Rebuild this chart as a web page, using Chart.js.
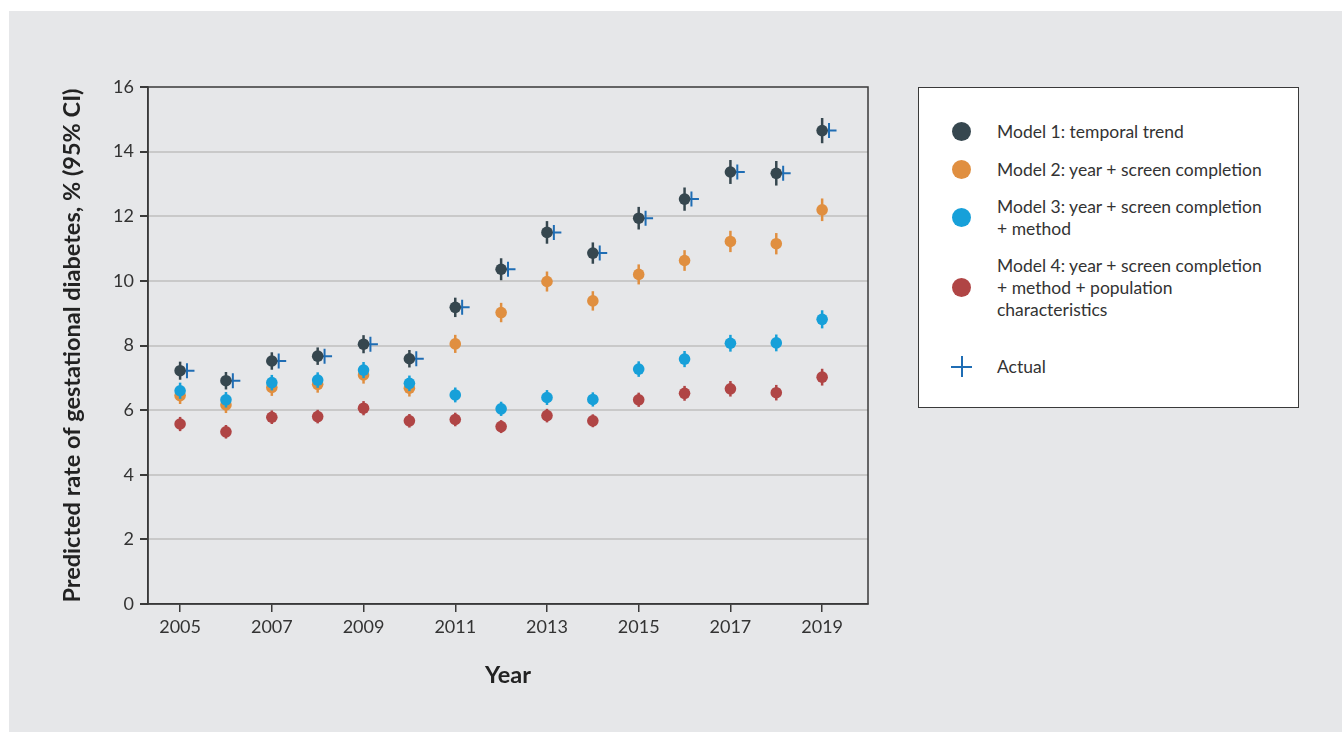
<!DOCTYPE html>
<html>
<head>
<meta charset="utf-8">
<script src="https://cdn.jsdelivr.net/npm/chart.js@4"></script>
<style>
  html, body { margin: 0; padding: 0; background: #fff; }
  body { width: 1342px; height: 732px; position: relative; overflow: hidden; font-family: Lato, "Noto Sans", sans-serif; }
  #panel { position: absolute; left: 9px; top: 11px; right: 0; bottom: 0; background: #e6e7e9; }
  #chart { position: absolute; left: 0; top: 0; }
  #legend {
    position: absolute; left: 918px; top: 87px; width: 379px; height: 319px;
    background: #fff; border: 1.5px solid #3a3a3a; color: #333; font-size: 17.5px; line-height: 22px;
  }
  .item { position: absolute; left: 78px; }
  .dot { position: absolute; width: 19px; height: 19px; border-radius: 50%; left: 33px; }
  .cross { position: absolute; left: 32px; width: 21px; height: 21px; }
  .cross:before { content: ""; position: absolute; left: 0; top: 9.5px; width: 21px; height: 2px; background: #1f6db4; }
  .cross:after { content: ""; position: absolute; left: 9.5px; top: 0; width: 2px; height: 21px; background: #1f6db4; }
</style>
</head>
<body>
<div id="panel"></div>
<canvas id="chart" width="880" height="732"></canvas>
<div id="legend">
  <div class="dot" style="top:34px;background:#36474f"></div>
  <div class="item" style="top:33px">Model 1: temporal trend</div>
  <div class="dot" style="top:72px;background:#e08f40"></div>
  <div class="item" style="top:71px">Model 2: year + screen completion</div>
  <div class="dot" style="top:120px;background:#17a0d9"></div>
  <div class="item" style="top:108px">Model 3: year + screen completion<br>+ method</div>
  <div class="dot" style="top:190px;background:#b04545"></div>
  <div class="item" style="top:167px">Model 4: year + screen completion<br>+ method + population<br>characteristics</div>
  <div class="cross" style="top:268px"></div>
  <div class="item" style="top:268px">Actual</div>
</div>
<script>
const years = [2005, 2006, 2007, 2008, 2009, 2010, 2011, 2012, 2013, 2014, 2015, 2016, 2017, 2018, 2019];
const tickYears = [2005, 2007, 2009, 2011, 2013, 2015, 2017, 2019];

const model1 = [7.22, 6.91, 7.52, 7.67, 8.04, 7.59, 9.18, 10.36, 11.5, 10.86, 11.94, 12.53, 13.37, 13.33, 14.65];
const model1Err = [0.28, 0.27, 0.27, 0.27, 0.28, 0.27, 0.30, 0.34, 0.35, 0.33, 0.35, 0.36, 0.37, 0.38, 0.39];
const model2 = [6.45, 6.16, 6.70, 6.80, 7.09, 6.68, 8.05, 9.02, 9.98, 9.38, 10.2, 10.63, 11.22, 11.15, 12.2];
const model2Err = [0.26, 0.25, 0.26, 0.26, 0.27, 0.26, 0.28, 0.30, 0.31, 0.30, 0.31, 0.32, 0.33, 0.33, 0.35];
const model3 = [6.60, 6.32, 6.85, 6.93, 7.24, 6.83, 6.47, 6.04, 6.39, 6.33, 7.27, 7.58, 8.07, 8.08, 8.81];
const model3Err = [0.25, 0.24, 0.24, 0.24, 0.25, 0.24, 0.23, 0.22, 0.23, 0.22, 0.24, 0.25, 0.26, 0.26, 0.28];
const model4 = [5.57, 5.33, 5.78, 5.80, 6.06, 5.67, 5.71, 5.49, 5.83, 5.67, 6.32, 6.52, 6.66, 6.54, 7.02];
const model4Err = [0.22, 0.21, 0.21, 0.21, 0.22, 0.21, 0.21, 0.20, 0.21, 0.20, 0.22, 0.23, 0.24, 0.24, 0.26];
const actual = [7.22, 6.91, 7.52, 7.67, 8.04, 7.59, 9.18, 10.36, 11.5, 10.86, 11.94, 12.53, 13.37, 13.33, 14.65];

const actualShift = 0.15; // crosses sit just right of the model points

const FONT = 'Lato, "Noto Sans", sans-serif';
const TEXT = '#333';

function pts(vals) {
  return years.map((y, i) => ({ x: y, y: vals[i] }));
}

function modelSet(label, vals, err, color, order) {
  return {
    label, data: pts(vals), errors: err,
    backgroundColor: color, borderColor: color, borderWidth: 0,
    pointRadius: 5.8, pointHoverRadius: 5.8, showLine: false, order
  };
}

// vertical 95% CI bars, drawn under each dataset's points
const errorBars = {
  id: 'errorBars',
  beforeDatasetDraw(chart, args) {
    const ds = chart.data.datasets[args.index];
    if (!ds.errors) return;
    const { ctx, scales: { x, y } } = chart;
    ctx.save();
    ctx.strokeStyle = ds.borderColor;
    ctx.lineWidth = 2.5;
    ds.data.forEach((p, i) => {
      const px = x.getPixelForValue(p.x);
      ctx.beginPath();
      ctx.moveTo(px, y.getPixelForValue(p.y - ds.errors[i]));
      ctx.lineTo(px, y.getPixelForValue(p.y + ds.errors[i]));
      ctx.stroke();
    });
    ctx.restore();
  }
};

// frame around the plot area
const frame = {
  id: 'frame',
  afterDraw(chart) {
    const { ctx, chartArea: a } = chart;
    ctx.save();
    ctx.strokeStyle = '#3a3a3a';
    ctx.lineWidth = 1.5;
    ctx.strokeRect(a.left, a.top, a.right - a.left, a.bottom - a.top);
    ctx.restore();
  }
};

new Chart(document.getElementById('chart'), {
  type: 'scatter',
  data: {
    datasets: [
      modelSet('Model 1: temporal trend', model1, model1Err, '#36474f', 1),
      modelSet('Model 2: year + screen completion', model2, model2Err, '#e08f40', 4),
      modelSet('Model 3: year + screen completion + method', model3, model3Err, '#17a0d9', 3),
      modelSet('Model 4: year + screen completion + method + population characteristics', model4, model4Err, '#b04545', 2),
      {
        label: 'Actual',
        data: years.map((y, i) => ({ x: y + actualShift, y: actual[i] })),
        pointStyle: 'cross', pointRadius: 7.5, pointHoverRadius: 7.5,
        borderColor: '#1f6db4', borderWidth: 2, showLine: false, order: 10
      }
    ]
  },
  options: {
    responsive: false,
    animation: false,
    events: [],
    layout: { padding: { top: 87, right: 12, bottom: 0, left: 0 } },
    plugins: { legend: { display: false }, tooltip: { enabled: false } },
    scales: {
      x: {
        type: 'linear', min: 2004.3, max: 2020,
        afterBuildTicks: (axis) => { axis.ticks = tickYears.map(v => ({ value: v })); },
        afterFit: (axis) => { axis.height = 128; },
        grid: { drawOnChartArea: false, drawTicks: true, tickLength: 8, tickColor: '#3a3a3a', lineWidth: 1.5 },
        border: { display: true, color: '#3a3a3a', width: 1.5 },
        ticks: { color: TEXT, font: { family: FONT, size: 18 }, padding: 4, maxRotation: 0, callback: v => String(v) },
        title: { display: true, text: 'Year', color: '#222', font: { family: FONT, size: 23.5, weight: 'bold' }, padding: { top: 0, bottom: 42 } }
      },
      y: {
        min: 0, max: 16,
        afterFit: (axis) => { axis.width = 148; },
        grid: {
          color: (c) => (c.tick && (c.tick.value === 0 || c.tick.value === 16)) ? 'rgba(0,0,0,0)' : '#c9c9c9',
          lineWidth: 2, tickColor: '#3a3a3a', tickLength: 8, drawTicks: true
        },
        border: { display: true, color: '#3a3a3a', width: 1.5 },
        ticks: { stepSize: 2, color: TEXT, font: { family: FONT, size: 18 }, padding: 6 },
        title: { display: true, text: 'Predicted rate of gestational diabetes, % (95% CI)', color: '#222', font: { family: FONT, size: 23.5, weight: 'bold' }, padding: { top: 58, bottom: 0 } }
      }
    }
  },
  plugins: [errorBars, frame]
});
</script>
</body>
</html>
